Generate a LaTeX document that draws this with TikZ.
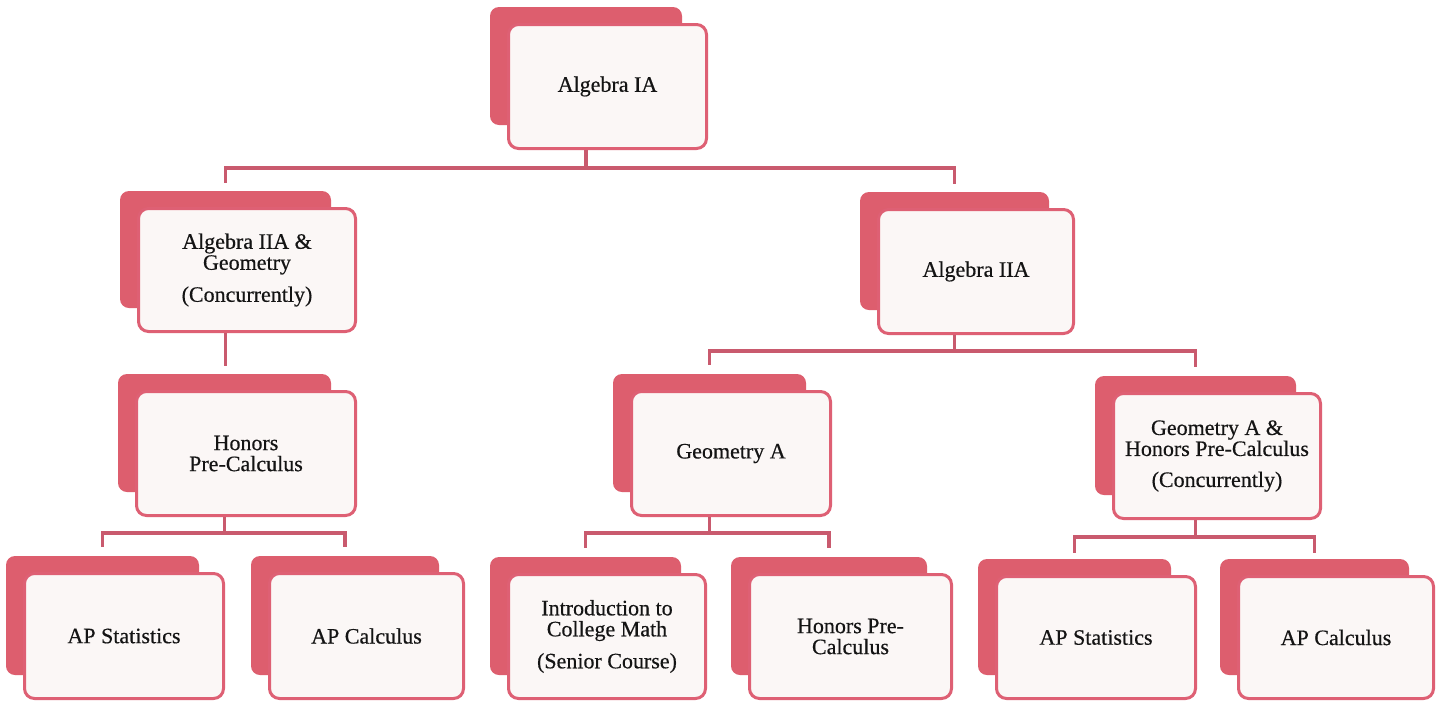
\documentclass[tikz,border=0pt]{standalone}
\usepackage{fontspec}
\setmainfont[FakeBold=0.5]{Liberation Serif}
\usetikzlibrary{calc}
\definecolor{backred}{HTML}{DD5E6E}
\definecolor{frontline}{HTML}{DE6074}
\definecolor{connline}{HTML}{C95A6E}
\definecolor{frontfill}{HTML}{FBF7F6}
\tikzset{
  backcard/.style={fill=backred, draw=none, rounded corners=9pt, inner sep=0pt},
  frontcard/.style={fill=frontfill, draw=frontline, line width=3pt, rounded corners=10pt,
    inner sep=0pt, align=center, font=\fontsize{22}{21}\selectfont, text=black!92},
  conn/.style={draw=connline, line width=3.5pt},
}
\newcommand\card[6]{%
  \node[backcard, minimum width={#4pt-#2pt-9pt}, minimum height={#5pt-#3pt-9pt}]
    (#1b) at ({(#2+#4)/2-21.5},{(#3+#5)/2-20.5}) {};
  \node[frontcard, minimum width={#4pt-#2pt-3pt}, minimum height={#5pt-#3pt-3pt}]
    (#1) at ({(#2+#4)/2},{(#3+#5)/2}) {#6};
}
\begin{document}
\begin{tikzpicture}[x=1pt,y=-1pt]
\fill[white] (0,0) rectangle (1442,702);
\useasboundingbox (0,0) rectangle (1442,702);

\card{a1}{507}{23}{708}{150}{Algebra IA}
\card{a2g}{137}{207}{357}{333}{Algebra IIA \&\\Geometry\\[11pt](Concurrently)}
\card{a2}{877}{208}{1075}{335}{Algebra IIA}
\card{hpc}{135}{390}{357}{517}{Honors\\Pre-Calculus}
\card{ga}{630}{390}{832}{517}{Geometry A}
\card{gah}{1112}{392}{1322}{520}{Geometry A \&\\Honors Pre-Calculus\\[10pt](Concurrently)}
\card{sa}{23}{572}{225}{700}{AP Statistics}
\card{ca}{268}{572}{465}{700}{AP Calculus}
\card{icm}{507}{573}{707}{700}{Introduction to\\College Math\\[11pt](Senior Course)}
\card{hpx}{748}{573}{953}{700}{Honors Pre-\\Calculus}
\card{sb}{995}{575}{1197}{700}{AP Statistics}
\card{cb}{1237}{575}{1435}{700}{AP Calculus}

% level 1
\coordinate (j1) at ($(a1b.center |- a1.south)+(0,18)$);
\draw[conn] (a1b.center |- a1.south) -- (j1);
\draw[conn] ([yshift=8pt]a2gb.north) |- (j1) -| ([yshift=8pt]a2b.north);

% left chain
\draw[conn, shorten >=8pt] (a2gb.center |- a2g.south) -- (a2gb.center |- hpcb.north);

% Algebra IIA children
\coordinate (j2) at ($(a2b.center |- a2.south)+(0,16)$);
\draw[conn] (a2b.center |- a2.south) -- (j2);
\draw[conn] ([yshift=9pt]gab.north) |- (j2) -| ([yshift=9pt]gahb.north);

% Honors Pre-Calculus children
\coordinate (j3) at ($(hpcb.center |- hpc.south)+(0,16)$);
\draw[conn] (hpcb.center |- hpc.south) -- (j3);
\draw[conn] ([yshift=9pt]sab.north) |- (j3) -| ([yshift=9pt]cab.north);

% Geometry A children
\coordinate (j4) at ($(gab.center |- ga.south)+(0,16)$);
\draw[conn] (gab.center |- ga.south) -- (j4);
\draw[conn] ([yshift=9pt]icmb.north) |- (j4) -| ([yshift=9pt]hpxb.north);

% Geometry A & HPC children
\coordinate (j5) at ($(gahb.center |- gah.south)+(0,17)$);
\draw[conn] (gahb.center |- gah.south) -- (j5);
\draw[conn] ([yshift=6pt]sbb.north) |- (j5) -| ([yshift=6pt]cbb.north);
\end{tikzpicture}
\end{document}
